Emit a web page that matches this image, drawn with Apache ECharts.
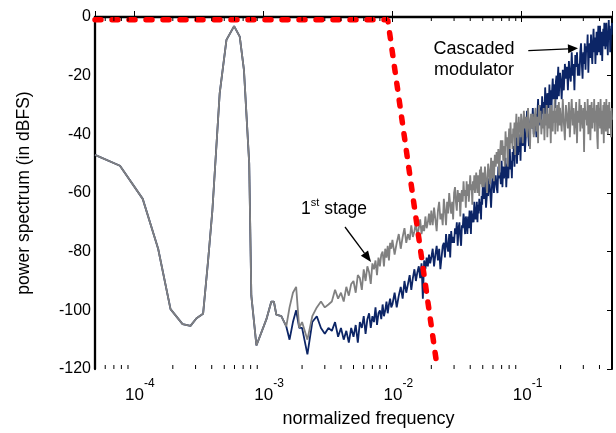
<!DOCTYPE html>
<html><head><meta charset="utf-8">
<script src="https://cdn.jsdelivr.net/npm/echarts@6/dist/echarts.min.js"></script>
<style>html,body{margin:0;padding:0;background:#fff}#c{width:616px;height:433px}</style>
</head><body><div id="c"></div>
<script>
// normalized frequency (shared FFT bins)
const freq = [
  5e-5, 7.8e-5, 1.17e-4, 1.54e-4, 1.92e-4, 2.38e-4, 2.74e-4, 3.05e-4, 3.43e-4, 3.75e-4,
  4.05e-4, 4.61e-4, 5.2e-4, 5.96e-4, 6.59e-4, 7.1e-4, 7.8e-4, 8.1e-4, 8.87e-4, 1.06e-3,
  1.157e-3, 1.21e-3, 1.265e-3, 1.382e-3, 1.51e-3, 1.6e-3, 1.7e-3, 1.8e-3, 1.9e-3,
  0.002, 0.0022, 0.0024, 0.0026, 0.0028, 0.003, 0.0032, 0.0034, 0.0036, 0.0038, 0.004, 0.0042, 0.0044, 0.0046, 0.0048,
  0.005, 0.0052, 0.0054, 0.0056, 0.0058, 0.006, 0.0062, 0.0064, 0.0066, 0.0068, 0.007, 0.0072, 0.0074, 0.0076, 0.0078,
  0.008, 0.0082, 0.0084, 0.0086, 0.0088, 0.009, 0.0092, 0.0094, 0.0096, 0.0098,
  0.01, 0.0104, 0.0108, 0.0112, 0.0116, 0.012, 0.0124, 0.0128, 0.0132, 0.0136, 0.014, 0.0144, 0.0148,
  0.0152, 0.0156, 0.016, 0.0164, 0.0168, 0.0172, 0.0176, 0.018, 0.0184, 0.0188, 0.0192, 0.0196,
  0.02, 0.0205, 0.021, 0.0215, 0.022, 0.0225, 0.023, 0.0235, 0.024, 0.0245,
  0.025, 0.0255, 0.026, 0.0265, 0.027, 0.0275, 0.028, 0.0285, 0.029, 0.0295,
  0.03, 0.0305, 0.031, 0.0315, 0.032, 0.0325, 0.033, 0.0335, 0.034, 0.0345,
  0.035, 0.0355, 0.036, 0.0365, 0.037, 0.0375, 0.038, 0.0385, 0.039, 0.0395,
  0.04, 0.0405, 0.041, 0.0415, 0.042, 0.0425, 0.043, 0.0435, 0.044, 0.0445,
  0.045, 0.0455, 0.046, 0.0465, 0.047, 0.0475, 0.048, 0.0485, 0.049, 0.0495,
  0.05, 0.051, 0.052, 0.053, 0.054, 0.055, 0.056, 0.057, 0.058, 0.059,
  0.06, 0.061, 0.062, 0.063, 0.064, 0.065, 0.066, 0.067, 0.068, 0.069,
  0.07, 0.071, 0.072, 0.073, 0.074, 0.075, 0.076, 0.077, 0.078, 0.079,
  0.08, 0.081, 0.082, 0.083, 0.084, 0.085, 0.086, 0.087, 0.088, 0.089,
  0.09, 0.091, 0.092, 0.093, 0.094, 0.095, 0.096, 0.097, 0.098, 0.099,
  0.1, 0.102, 0.104, 0.106, 0.108, 0.11, 0.112, 0.114, 0.116, 0.118,
  0.12, 0.122, 0.124, 0.126, 0.128, 0.13, 0.132, 0.134, 0.136, 0.138,
  0.14, 0.142, 0.144, 0.146, 0.148, 0.15, 0.152, 0.154, 0.156, 0.158,
  0.16, 0.162, 0.164, 0.166, 0.168, 0.17, 0.172, 0.174, 0.176, 0.178,
  0.18, 0.182, 0.184, 0.186, 0.188, 0.19, 0.192, 0.194, 0.196, 0.198,
  0.2, 0.204, 0.208, 0.212, 0.216, 0.22, 0.224, 0.228, 0.232, 0.236,
  0.24, 0.244, 0.248, 0.252, 0.256, 0.26, 0.264, 0.268, 0.272, 0.276,
  0.28, 0.284, 0.288, 0.292, 0.296, 0.3, 0.304, 0.308, 0.312, 0.316,
  0.32, 0.324, 0.328, 0.332, 0.336, 0.34, 0.344, 0.348, 0.352, 0.356,
  0.36, 0.364, 0.368, 0.372, 0.376, 0.38, 0.384, 0.388, 0.392, 0.396,
  0.4, 0.404, 0.408, 0.412, 0.416, 0.42, 0.424, 0.428, 0.432, 0.436,
  0.44, 0.444, 0.448, 0.452, 0.456, 0.46, 0.464, 0.468, 0.472, 0.476,
  0.48, 0.484, 0.488, 0.492, 0.496, 0.5
];
// 1st stage spectrum (dBFS)
const grayDb = [
  -47, -50.7, -62, -79, -99.6, -104.7, -105.3, -102.7, -101.2, -83,
  -65.8, -26, -7.8, -3.1, -6.7, -18, -50, -95, -112, -103,
  -97, -97, -101.5, -102, -105.5, -99, -94, -92, -106,
  -104, -110, -102, -99, -97, -99, -98, -97, -93, -96, -94, -97, -92, -95, -91,
  -90, -94, -88, -89, -93, -86, -90, -85, -87, -91, -84, -86, -83, -88, -82,
  -85, -81, -80, -85, -79, -82, -78, -83, -77, -79,
  -76, -81, -77, -74, -79, -75, -72, -77, -74, -76, -71, -75, -73,
  -70, -75, -72, -69, -74, -71, -73, -68, -72, -70, -67, -71,
  -66, -71, -65, -69, -73, -66, -63, -69, -67, -71,
  -62, -66, -71, -63, -67, -60, -64, -67, -63, -69,
  -60, -58, -63, -66, -59, -63, -60, -68, -61, -59,
  -63, -56, -61, -59, -65, -56, -61, -57, -63, -59,
  -54, -59, -57, -64, -56, -59, -54, -60, -57, -53,
  -57, -60, -54, -55, -61, -52, -57, -51, -55, -58,
  -53, -58, -51, -56, -60, -50, -53, -57, -48, -55,
  -49, -56, -47, -51, -46, -50, -45, -54, -47, -42,
  -47, -42, -49, -44, -51, -39, -44, -41, -51, -43,
  -38, -45, -36, -43, -40, -45, -38, -41, -36, -47,
  -38, -33, -41, -36, -44, -34, -39, -36, -41, -33,
  -35, -43, -32, -38, -34, -41, -31, -37, -45, -33,
  -38, -33, -41, -35, -31, -39, -34, -43, -30, -36,
  -32, -40, -35, -38, -31, -42, -33, -37, -30, -41,
  -33, -38, -31, -35, -43, -30, -34, -39, -32, -36,
  -28, -40, -32, -36, -30, -39, -34, -29, -37, -31,
  -31, -39, -28, -36, -42, -30, -34, -38, -29, -41,
  -33, -28, -37, -31, -40, -35, -29, -43, -32, -36,
  -28, -39, -30, -34, -38, -31, -46, -29, -35, -32,
  -37, -28, -40, -33, -30, -42, -34, -29, -38, -31,
  -36, -28, -39, -32, -35, -30, -41, -45, -29, -37,
  -31, -38, -28, -34, -40, -32, -36, -30, -43, -29,
  -35, -31, -39, -28, -37, -33, -40, -30, -36, -29,
  -38, -32, -34, -41, -31, -35
];
// Cascaded modulator spectrum (dBFS)
const navyDb = [
  -47, -50.7, -62, -79, -99.6, -104.7, -105.3, -102.7, -101.2, -83,
  -65.8, -26, -7.8, -3.1, -6.7, -18, -50, -95, -112, -103,
  -97, -97, -101.5, -102, -105.5, -110, -104, -100, -106,
  -106, -115, -104, -102, -106, -108, -106, -107, -104, -109, -106, -110, -107, -111, -106,
  -109, -105, -111, -104, -106, -102, -108, -103, -101, -106, -102, -104, -99, -105, -101,
  -100, -103, -98, -102, -100, -97, -101, -98, -96, -99,
  -98, -94, -99, -95, -92, -96, -90, -94, -91, -88, -93, -89, -86,
  -90, -87, -85, -89, -84, -96, -83, -86, -82, -85, -81, -84,
  -82, -79, -85, -81, -78, -83, -79, -86, -82, -78,
  -77, -82, -74, -78, -80, -74, -82, -73, -77, -75,
  -77, -72, -74, -70, -78, -72, -70, -75, -78, -71,
  -72, -67, -70, -74, -68, -70, -74, -68, -72, -66,
  -68, -74, -66, -70, -67, -70, -63, -67, -69, -66,
  -63, -70, -64, -67, -62, -66, -63, -69, -61, -64,
  -58, -62, -56, -65, -60, -61, -55, -59, -65, -57,
  -52, -60, -56, -54, -58, -60, -51, -55, -53, -57,
  -49, -58, -51, -55, -53, -48, -58, -52, -50, -55,
  -47, -45, -52, -49, -55, -46, -49, -44, -51, -45,
  -46, -41, -50, -44, -47, -40, -46, -43, -49, -41,
  -38, -44, -36, -46, -40, -32, -39, -44, -36, -34,
  -38, -31, -40, -35, -33, -41, -34, -28, -37, -30,
  -30, -37, -27, -33, -29, -34, -24, -30, -36, -26,
  -27, -31, -23, -30, -25, -32, -25, -21, -28, -23,
  -25, -31, -22, -20, -28, -21, -17, -27, -22, -19,
  -21, -28, -18, -25, -16, -21, -17, -25, -15, -20,
  -22, -12, -20, -16, -25, -13, -17, -12, -20, -16,
  -20, -12, -9, -16, -21, -12, -16, -9, -18, -10,
  -12, -6, -19, -11, -9, -14, -6, -12, -16, -9,
  -4, -12, -7, -16, -10, -5, -13, -8, -3, -12,
  -6, -3, -13, -9, -5, -15, -8, -4, -10, -2,
  -6, -11, -4, -2, -10, -8, -13, -5, -1, -7,
  -3, -12, -9, -4, -6, -2
];
// ideal decimation filter response
const filterFreq = [5e-5, 0.0092, 0.0223];
const filterDb = [-0.9, -0.9, -120];
// minor ticks of the log frequency axis
const minorTicks = [6e-5, 7e-5, 8e-5, 9e-5,
  2e-4, 3e-4, 4e-4, 5e-4, 6e-4, 7e-4, 8e-4, 9e-4,
  2e-3, 3e-3, 4e-3, 5e-3, 6e-3, 7e-3, 8e-3, 9e-3,
  0.02, 0.03, 0.04, 0.05, 0.06, 0.07, 0.08, 0.09,
  0.2, 0.3, 0.4];
const yMin = -120, yMax = 0, yStep = 20;
const xMin = 5e-5, xMax = 0.5;

const FONT = "'Liberation Sans', Arial, sans-serif";
const chart = echarts.init(document.getElementById('c'), null, {renderer: 'canvas'});
const pairs = (xs, ys) => xs.map((x, i) => [x, ys[i]]);

const minorTickSeries = {
  type: 'custom', xAxisIndex: 0, yAxisIndex: 0, silent: true, z: 10, clip: false,
  data: minorTicks.map(f => [f]),
  renderItem: (params, api) => {
    const b = api.coord([api.value(0), yMin]);
    const t = api.coord([api.value(0), yMax]);
    const st = {stroke: '#000', lineWidth: 1};
    return {type: 'group', children: [
      {type: 'line', shape: {x1: b[0], y1: b[1], x2: b[0], y2: b[1] - 4}, style: st},
      {type: 'line', shape: {x1: t[0], y1: t[1], x2: t[0], y2: t[1] + 4}, style: st}
    ]};
  }
};

function arrow(x1, y1, x2, y2, head, half) {
  const dx = x2 - x1, dy = y2 - y1, L = Math.hypot(dx, dy);
  const ux = dx / L, uy = dy / L, nx = -uy, ny = ux;
  const bx = x2 - ux * head, by = y2 - uy * head;
  return [
    {type: 'line', shape: {x1, y1, x2: bx, y2: by}, style: {stroke: '#000', lineWidth: 1.3}, z: 20},
    {type: 'polygon', shape: {points: [[x2, y2], [bx + nx * half, by + ny * half], [bx - nx * half, by - ny * half]]},
      style: {fill: '#000'}, z: 20}
  ];
}

const option = {
  animation: false,
  backgroundColor: '#fff',
  grid: {left: 95, right: 4, top: 17, bottom: 63.5},
  xAxis: [{
    type: 'log', logBase: 10, min: xMin, max: xMax, position: 'bottom',
    axisLine: {show: true, lineStyle: {color: '#000', width: 2.3}},
    axisTick: {show: true, inside: true, length: 6, lineStyle: {color: '#000', width: 1}},
    splitLine: {show: false},
    axisLabel: {
      margin: 9, padding: [0, 0, 0, 12],
      formatter: v => {
        const l = Math.log10(v), e = Math.round(l);
        if (Math.abs(l - e) > 1e-6) return '';
        return '{b|10}{s|' + e + '}';
      },
      rich: {
        b: {fontSize: 17, fontFamily: FONT, color: '#000', verticalAlign: 'bottom', lineHeight: 26},
        s: {fontSize: 12, fontFamily: FONT, color: '#000', verticalAlign: 'top', lineHeight: 26}
      }
    },
    name: 'normalized frequency', nameLocation: 'middle', nameGap: 41,
    nameTextStyle: {fontSize: 18, fontFamily: FONT, color: '#000', padding: [0, 0, 0, 30]}
  }, {
    type: 'log', logBase: 10, min: xMin, max: xMax, position: 'top',
    axisLine: {show: true, lineStyle: {color: '#000', width: 2}},
    axisTick: {show: true, inside: true, length: 5, lineStyle: {color: '#000', width: 1}},
    axisLabel: {show: false}, splitLine: {show: false}
  }],
  yAxis: [{
    type: 'value', min: yMin, max: yMax, interval: yStep, position: 'left',
    axisLine: {show: true, lineStyle: {color: '#000', width: 2.3}},
    axisTick: {show: false},
    splitLine: {show: false},
    axisLabel: {fontSize: 16, fontFamily: FONT, color: '#000', margin: 4},
    name: 'power spectrum (in dBFS)', nameLocation: 'middle', nameGap: 62,
    nameTextStyle: {fontSize: 17.5, fontFamily: FONT, color: '#000'}
  }, {
    type: 'value', min: yMin, max: yMax, interval: yStep, position: 'right',
    axisLine: {show: true, lineStyle: {color: '#000', width: 2}},
    axisTick: {show: true, inside: true, length: 5, lineStyle: {color: '#000', width: 1}},
    axisLabel: {show: false}, splitLine: {show: false}
  }],
  series: [{
    name: 'Cascaded modulator', type: 'line', data: pairs(freq, navyDb),
    showSymbol: false, symbol: 'none', z: 2,
    lineStyle: {color: '#0c2566', width: 1.8}
  }, {
    name: '1st stage', type: 'line', data: pairs(freq, grayDb),
    showSymbol: false, symbol: 'none', z: 3,
    lineStyle: {color: '#808080', width: 1.8}
  }, {
    name: 'filter', type: 'line', data: pairs(filterFreq, filterDb),
    showSymbol: false, symbol: 'none', z: 4, clip: false,
    lineStyle: {color: '#ff0000', width: 5.5, type: [6, 11], cap: 'round'}
  }, minorTickSeries],
  graphic: [
    {type: 'text', x: 474, y: 38.5, z: 20, style: {text: 'Cascaded\nmodulator', fill: '#000',
      font: '18px ' + FONT, align: 'center', verticalAlign: 'top', lineHeight: 21}},
    {type: 'text', x: 301, y: 197, z: 20, style: {text: '{a|1}{b|st}{a| stage}', fill: '#000',
      align: 'left', verticalAlign: 'top',
      rich: {a: {fontSize: 17.5, fontFamily: FONT, fill: '#000', verticalAlign: 'bottom', lineHeight: 21},
             b: {fontSize: 11, fontFamily: FONT, fill: '#000', verticalAlign: 'top', lineHeight: 21}}}},
    ...arrow(528.3, 50.7, 578, 48.3, 10, 4.5),
    ...arrow(345, 227, 371, 262, 11, 4.5)
  ]
};
chart.setOption(option);
</script>
</body></html>
